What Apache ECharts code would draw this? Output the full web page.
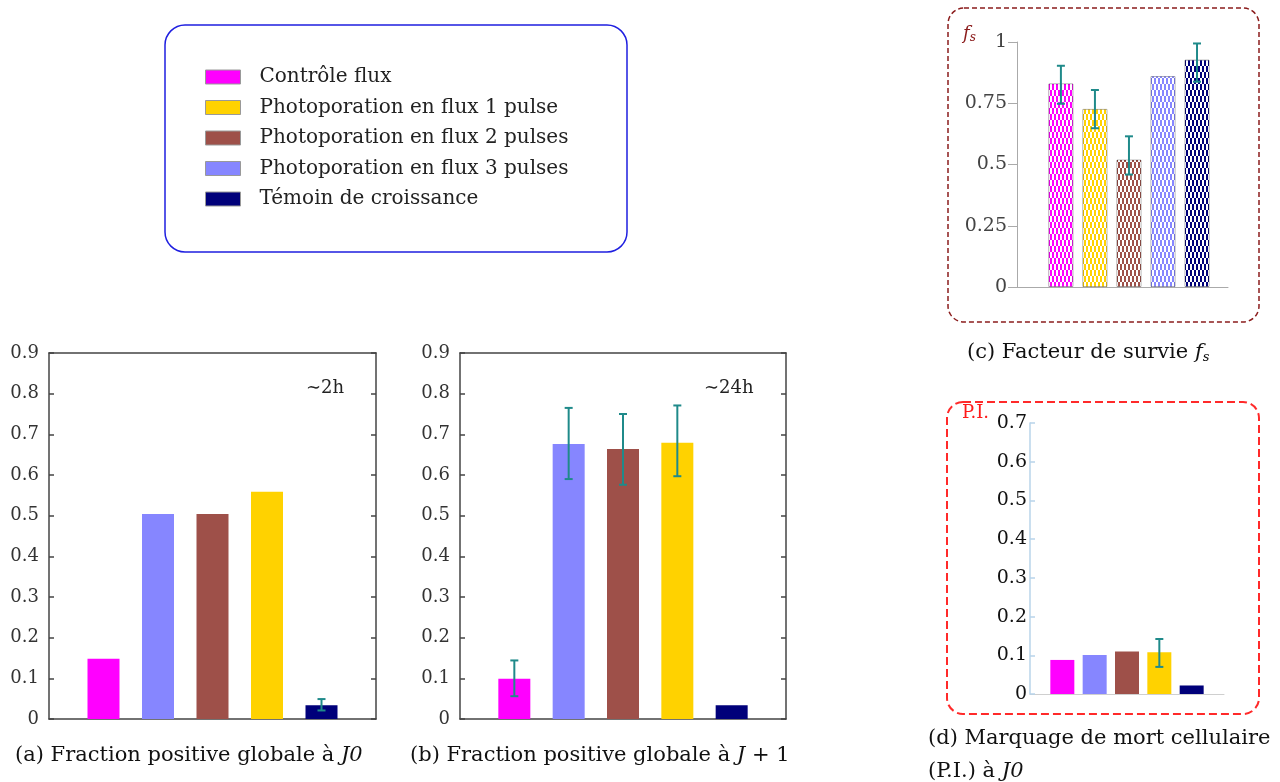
<!DOCTYPE html>
<html>
<head>
<meta charset="utf-8">
<script src="https://cdn.jsdelivr.net/npm/echarts@6/dist/echarts.min.js"></script>
<style>
  html, body { margin: 0; padding: 0; background: #fff; }
  #main { width: 1280px; height: 782px; }
</style>
</head>
<body>
<div id="main"></div>
<script>
// groupes (ordre de la légende)
var groupNames = ['Contrôle flux', 'Photoporation en flux 1 pulse', 'Photoporation en flux 2 pulses',
                  'Photoporation en flux 3 pulses', 'Témoin de croissance'];
var groupColors = ['#ff00ff', '#ffd200', '#9e5049', '#8686ff', '#00007a'];

// (a) fraction positive J0 ~2h
var orderA = [0, 3, 2, 1, 4];
var valuesA = [0.148, 0.504, 0.504, 0.559, 0.034];
var errA = [null, null, null, null, [0.021, 0.049]];

// (b) fraction positive J+1 ~24h
var orderB = [0, 3, 2, 1, 4];
var valuesB = [0.099, 0.676, 0.664, 0.679, 0.034];
var errB = [[0.056, 0.144], [0.590, 0.765], [0.576, 0.750], [0.597, 0.771], null];

// (c) facteur de survie fs
var orderC = [0, 1, 2, 3, 4];
var valuesC = [0.831, 0.727, 0.520, 0.861, 0.928];
var errC = [[0.748, 0.903], [0.648, 0.804], [0.459, 0.615], null, [0.838, 0.994]];

// (d) marquage P.I. J0
var orderD = [0, 3, 2, 1, 4];
var valuesD = [0.088, 0.101, 0.110, 0.108, 0.022];
var errD = [null, null, null, [0.070, 0.142], null];

var serif = 'DejaVu Serif';
var errColor = '#1f8a8a';

var chart = echarts.init(document.getElementById('main'));

function barSeries(idx, order, values, width, decal) {
  return {
    type: 'bar',
    xAxisIndex: idx,
    yAxisIndex: idx * 2,
    barWidth: width,
    silent: true,
    data: values.map(function (v, i) {
      var st = { color: groupColors[order[i]] };
      if (decal) {
        st.decal = {
          symbol: 'rect', symbolSize: 1, color: '#ffffff',
          dashArrayX: [[2, 2], [0, 2, 2, 0]], dashArrayY: [6, 0]
        };
        st.borderColor = 'rgba(0,0,0,0.18)';
        st.borderWidth = 1;
      }
      return { value: [i + 1, v], itemStyle: st };
    })
  };
}

function errSeries(idx, errs) {
  var pts = [];
  errs.forEach(function (e, i) { if (e) pts.push([i + 1, e[0], e[1]]); });
  return {
    type: 'custom',
    xAxisIndex: idx,
    yAxisIndex: idx * 2,
    silent: true,
    z: 5,
    data: pts,
    renderItem: function (params, api) {
      var lo = api.coord([api.value(0), api.value(1)]);
      var hi = api.coord([api.value(0), api.value(2)]);
      var w = 4;
      var st = { stroke: errColor, lineWidth: 2 };
      return {
        type: 'group',
        children: [
          { type: 'line', shape: { x1: lo[0], y1: lo[1], x2: hi[0], y2: hi[1] }, style: st },
          { type: 'line', shape: { x1: lo[0] - w, y1: lo[1], x2: lo[0] + w, y2: lo[1] }, style: st },
          { type: 'line', shape: { x1: hi[0] - w, y1: hi[1], x2: hi[0] + w, y2: hi[1] }, style: st }
        ]
      };
    }
  };
}

// axes en boîte pour (a) et (b)
function boxX(idx, pos) {
  return {
    type: 'value', gridIndex: idx, min: 0, max: 6, position: pos,
    axisLine: { show: true, onZero: false, lineStyle: { color: '#444', width: 1.5 } },
    axisTick: { show: false }, axisLabel: { show: false }, splitLine: { show: false }
  };
}
function boxY(idx, pos) {
  return {
    type: 'value', gridIndex: idx, min: 0, max: 0.9, interval: 0.1, position: pos,
    axisLine: { show: true, onZero: false, lineStyle: { color: '#444', width: 1.5 } },
    axisTick: { show: true, inside: true, length: 5, lineStyle: { color: '#444', width: 1.5 } },
    axisLabel: { show: pos === 'left', margin: 10, fontFamily: serif, fontSize: 18, color: '#333' },
    splitLine: { show: false }
  };
}

var legendSeries = groupNames.map(function (n, i) {
  return { type: 'bar', name: n, xAxisIndex: 6, yAxisIndex: 8, data: [], itemStyle: { color: groupColors[i] } };
});

var capFont = '21px "DejaVu Serif"';
var capRich = {
  i: { fontFamily: serif, fontStyle: 'italic', fontSize: 21 },
  s: { fontFamily: serif, fontStyle: 'italic', fontSize: 13, padding: [10, 0, 0, 0] }
};

var option = {
  animation: false,
  legend: {
    data: groupNames,
    orient: 'vertical',
    left: 200, top: 62,
    itemWidth: 35, itemHeight: 14, itemGap: 10.5,
    icon: 'rect',
    itemStyle: { borderColor: '#999', borderWidth: 1 },
    textStyle: { fontFamily: serif, fontSize: 20, color: '#222', lineHeight: 20, padding: [0, 0, 0, 14] },
    selectedMode: false
  },
  grid: [
    { left: 49, top: 353, width: 327, height: 366 },
    { left: 460, top: 353, width: 326, height: 366 },
    { left: 1017, top: 42, width: 211, height: 245 },
    { left: 1030, top: 423, width: 194, height: 271 },
    { left: 0, top: 0, width: 1, height: 1, show: false }
  ],
  xAxis: [
    boxX(0, 'bottom'),
    boxX(1, 'bottom'),
    {
      type: 'value', gridIndex: 2, min: -0.29, max: 5.91,
      axisLine: { show: true, onZero: false, lineStyle: { color: '#aaa', width: 1 } },
      axisTick: { show: false }, axisLabel: { show: false }, splitLine: { show: false }
    },
    {
      type: 'value', gridIndex: 3, min: 0, max: 6,
      axisLine: { show: true, onZero: false, lineStyle: { color: '#cfcfcf', width: 1 } },
      axisTick: { show: false }, axisLabel: { show: false }, splitLine: { show: false }
    },
    boxX(0, 'top'),
    boxX(1, 'top'),
    { type: 'value', gridIndex: 4, show: false }
  ],
  yAxis: [
    boxY(0, 'left'), boxY(0, 'right'),
    boxY(1, 'left'), boxY(1, 'right'),
    {
      type: 'value', gridIndex: 2, min: 0, max: 1, interval: 0.25,
      axisLine: { show: true, onZero: false, lineStyle: { color: '#aaa', width: 1 } },
      axisTick: { show: true, length: 9, lineStyle: { color: '#aaa' } },
      axisLabel: { margin: 10, fontFamily: serif, fontSize: 19, color: '#444' },
      splitLine: { show: false }
    },
    { type: 'value', gridIndex: 2, show: false, min: 0, max: 1 },
    {
      type: 'value', gridIndex: 3, min: 0, max: 0.7, interval: 0.1,
      axisLine: { show: true, onZero: false, lineStyle: { color: '#b8d4ea', width: 1.5 } },
      axisTick: { show: true, inside: true, length: 5, lineStyle: { color: '#b8d4ea', width: 1.5 } },
      axisLabel: { margin: 3, fontFamily: serif, fontSize: 19, color: '#111' },
      splitLine: { show: false }
    },
    { type: 'value', gridIndex: 3, show: false, min: 0, max: 0.7 },
    { type: 'value', gridIndex: 4, show: false }
  ],
  series: [
    barSeries(0, orderA, valuesA, 32, false),
    errSeries(0, errA),
    barSeries(1, orderB, valuesB, 32, false),
    errSeries(1, errB),
    barSeries(2, orderC, valuesC, 25, true),
    errSeries(2, errC),
    barSeries(3, orderD, valuesD, 24, false),
    errSeries(3, errD)
  ].concat(legendSeries),
  graphic: [
    { type: 'rect', shape: { x: 165, y: 25, width: 462, height: 227, r: 20 }, silent: true,
      style: { fill: 'none', stroke: '#1f1fe0', lineWidth: 1.5 } },
    { type: 'rect', shape: { x: 948, y: 8, width: 311, height: 314, r: 16 }, silent: true,
      style: { fill: 'none', stroke: '#8b1c1c', lineWidth: 1.5, lineDash: [5, 3] } },
    { type: 'rect', shape: { x: 947, y: 402, width: 312, height: 312, r: 16 }, silent: true,
      style: { fill: 'none', stroke: '#ff2a2a', lineWidth: 2, lineDash: [8, 4] } },
    { type: 'text', left: 306, top: 379, silent: true,
      style: { text: '∼2h', font: '18px "DejaVu Serif"', fill: '#222' } },
    { type: 'text', left: 704, top: 379, silent: true,
      style: { text: '∼24h', font: '18px "DejaVu Serif"', fill: '#222' } },
    { type: 'text', left: 963, top: 25, silent: true,
      style: { text: '{i|f}{s|s}', fill: '#8b1c1c',
        rich: { i: { fontFamily: serif, fontStyle: 'italic', fontSize: 18, fill: '#8b1c1c' },
                s: { fontFamily: serif, fontStyle: 'italic', fontSize: 12, fill: '#8b1c1c', padding: [8, 0, 0, 0] } } } },
    { type: 'text', left: 962, top: 404, silent: true,
      style: { text: 'P.I.', font: '18px "DejaVu Serif"', fill: '#ff1a1a' } },
    { type: 'text', left: 15, top: 745, silent: true,
      style: { text: '(a) Fraction positive globale à {i|J0}', font: capFont, fill: '#111', rich: capRich } },
    { type: 'text', left: 410, top: 745, silent: true,
      style: { text: '(b) Fraction positive globale à {i|J} + 1', font: capFont, fill: '#111', rich: capRich } },
    { type: 'text', left: 967, top: 342, silent: true,
      style: { text: '(c) Facteur de survie {i|f}{s|s}', font: capFont, fill: '#111', rich: capRich } },
    { type: 'text', left: 928, top: 728, silent: true,
      style: { text: '(d) Marquage de mort cellulaire', font: capFont, fill: '#111' } },
    { type: 'text', left: 928, top: 761, silent: true,
      style: { text: '(P.I.) à {i|J0}', font: capFont, fill: '#111', rich: capRich } }
  ]
};

chart.setOption(option);
</script>
</body>
</html>
